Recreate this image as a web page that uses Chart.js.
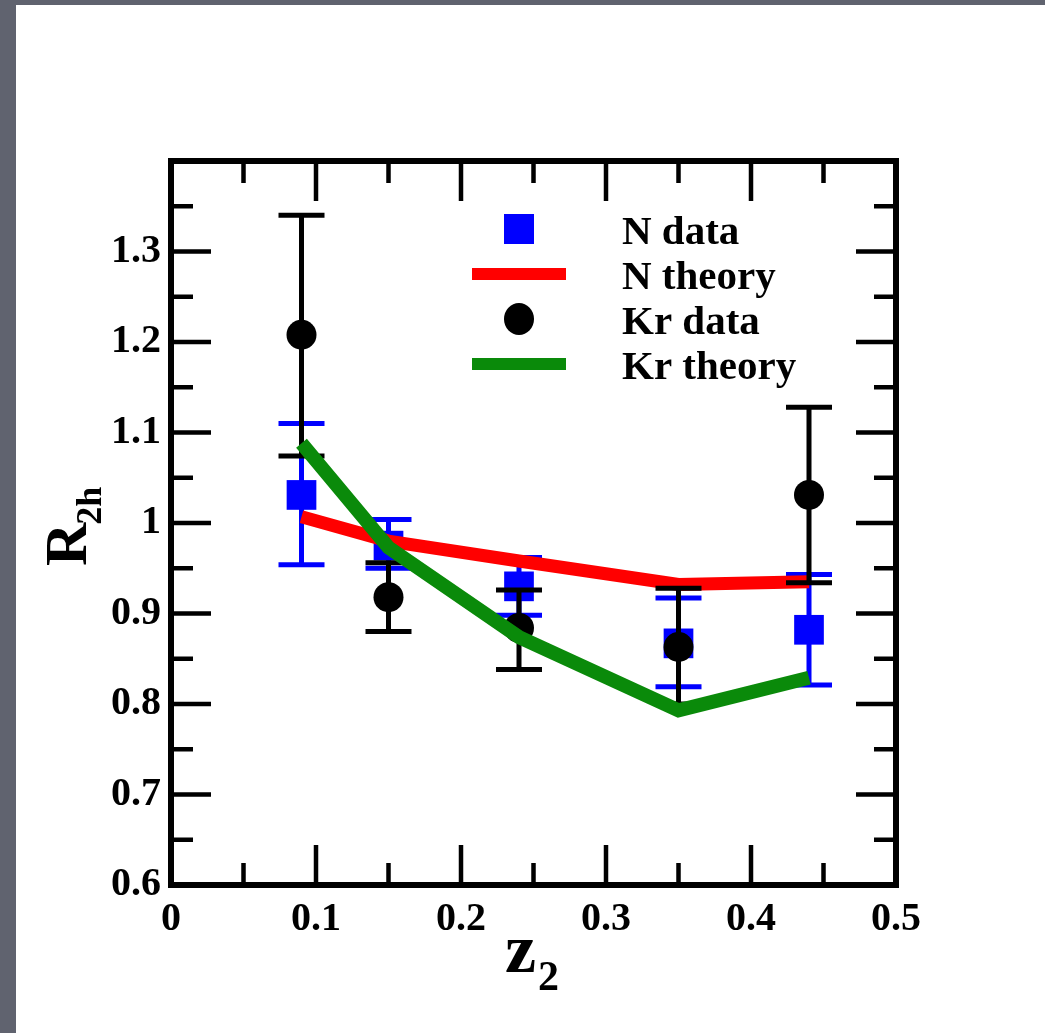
<!DOCTYPE html>
<html>
<head>
<meta charset="utf-8">
<script src="https://cdn.jsdelivr.net/npm/chart.js@4.4.1/dist/chart.umd.min.js"></script>
<style>
  html, body { margin: 0; padding: 0; background: #60636f; width: 1045px; height: 1033px; overflow: hidden; }
  .sheet { position: absolute; left: 16px; top: 5px; width: 1029px; height: 1028px; background: #fff; }
  .wrap { position: absolute; left: 0; top: 0; width: 1045px; height: 1033px; }
</style>
</head>
<body>
<div class="sheet"></div>
<div class="wrap"><canvas id="chart" width="1045" height="1033"></canvas></div>
<script>
// values
const zValues = [0.09, 0.15, 0.24, 0.35, 0.44];

const nData = [1.031, 0.975, 0.930, 0.867, 0.882];
const nErrLow = [0.954, 0.950, 0.898, 0.819, 0.821];
const nErrHigh = [1.110, 1.004, 0.962, 0.917, 0.943];
const nTheory = [1.007, 0.980, 0.958, 0.932, 0.935];

const krData = [1.208, 0.918, 0.884, 0.863, 1.031];
const krErrLow = [1.074, 0.880, 0.838, 0.800, 0.934];
const krErrHigh = [1.340, 0.956, 0.926, 0.928, 1.128];
const krTheory = [1.088, 0.973, 0.874, 0.793, 0.829];

const xTicks = [0, 0.1, 0.2, 0.3, 0.4, 0.5];
const yTicks = [0.6, 0.7, 0.8, 0.9, 1.0, 1.1, 1.2, 1.3];

const FONT = "'Liberation Serif', 'DejaVu Serif', serif";

function points(ys) {
    return zValues.map((z, i) => ({ x: z, y: ys[i] }));
}

// error bars, drawn just under the symbols of their own dataset
const errorBars = {
    id: 'errorBars',
    beforeDatasetDraw(chart, args) {
        const ds = chart.data.datasets[args.index];
        if (!ds.errLow) return;
        const ctx = chart.ctx;
        const x = chart.scales.x, y = chart.scales.y;
        ctx.save();
        ctx.strokeStyle = ds.errColor;
        ctx.lineWidth = 5;
        ds.data.forEach((p, i) => {
            const px = x.getPixelForValue(p.x);
            const lo = y.getPixelForValue(ds.errLow[i]);
            const hi = y.getPixelForValue(ds.errHigh[i]);
            ctx.beginPath();
            ctx.moveTo(px, lo); ctx.lineTo(px, hi);
            ctx.moveTo(px - 23, lo); ctx.lineTo(px + 23, lo);
            ctx.moveTo(px - 23, hi); ctx.lineTo(px + 23, hi);
            ctx.stroke();
        });
        ctx.restore();
    }
};

// box around the plot with inward major / minor ticks on all four sides
const frame = {
    id: 'frame',
    afterDatasetsDraw(chart) {
        const ctx = chart.ctx;
        const { left, right, top, bottom } = chart.chartArea;
        const x = chart.scales.x, y = chart.scales.y;
        const major = 40, minor = 22;

        const xMajor = xTicks;
        const xMinor = xMajor.slice(1).map((v, i) => (v + xMajor[i]) / 2);
        const yMajor = yTicks.concat([y.max]);
        const yMinor = yMajor.slice(1).map((v, i) => (v + yMajor[i]) / 2);

        ctx.save();
        ctx.strokeStyle = '#000';
        ctx.lineWidth = 4.5;
        ctx.beginPath();
        const tx = (v, len) => {
            const px = x.getPixelForValue(v);
            ctx.moveTo(px, bottom); ctx.lineTo(px, bottom - len);
            ctx.moveTo(px, top); ctx.lineTo(px, top + len);
        };
        const ty = (v, len) => {
            const py = y.getPixelForValue(v);
            ctx.moveTo(left, py); ctx.lineTo(left + len, py);
            ctx.moveTo(right, py); ctx.lineTo(right - len, py);
        };
        xMajor.forEach(v => tx(v, major));
        xMinor.forEach(v => tx(v, minor));
        yMajor.forEach(v => ty(v, major));
        yMinor.forEach(v => ty(v, minor));
        ctx.stroke();

        ctx.lineWidth = 6;
        ctx.strokeRect(left, top, right - left, bottom - top);
        ctx.restore();
    }
};

// legend inside the plot, built from the datasets
const insideLegend = {
    id: 'insideLegend',
    afterDatasetsDraw(chart) {
        const ctx = chart.ctx;
        const symX = 519, textX = 622, rowY = 229, rowGap = 45;
        ctx.save();
        ctx.font = 'bold 41px ' + FONT;
        ctx.textBaseline = 'alphabetic';
        ctx.textAlign = 'left';
        chart.data.datasets.forEach((ds, i) => {
            const cy = rowY + i * rowGap;
            if (ds.showLine) {
                ctx.fillStyle = ds.borderColor;
                ctx.fillRect(symX - 47, cy - 6, 94, 12);
            } else if (ds.pointStyle === 'rect') {
                ctx.fillStyle = ds.backgroundColor;
                ctx.fillRect(symX - 15, cy - 15, 30, 30);
            } else {
                ctx.fillStyle = ds.backgroundColor;
                ctx.beginPath();
                ctx.ellipse(symX, cy, 15, 16, 0, 0, Math.PI * 2);
                ctx.fill();
            }
            ctx.fillStyle = '#000';
            ctx.fillText(ds.label, textX, cy + 15);
        });
        ctx.restore();
    }
};

// axis titles with subscripts
const axisTitles = {
    id: 'axisTitles',
    afterDraw(chart) {
        const ctx = chart.ctx;
        ctx.save();
        ctx.fillStyle = '#000';
        ctx.textBaseline = 'alphabetic';
        ctx.textAlign = 'left';

        ctx.font = 'bold 70px ' + FONT;
        ctx.fillText('z', 505, 972);
        ctx.font = 'bold 42px ' + FONT;
        ctx.fillText('2', 538, 990);

        ctx.translate(86, 566);
        ctx.rotate(-Math.PI / 2);
        ctx.font = 'bold 60px ' + FONT;
        ctx.fillText('R', 0, 0);
        const w = ctx.measureText('R').width;
        ctx.font = 'bold 36px ' + FONT;
        ctx.fillText('2h', w - 2, 15);
        ctx.restore();
    }
};

new Chart(document.getElementById('chart'), {
    type: 'scatter',
    data: {
        datasets: [
            {
                label: 'N data',
                data: points(nData),
                errLow: nErrLow, errHigh: nErrHigh, errColor: '#0000ff',
                pointStyle: 'rect', pointRadius: 21, pointBorderWidth: 0,
                backgroundColor: '#0000ff', borderColor: '#0000ff',
                order: 4
            },
            {
                label: 'N theory',
                data: points(nTheory),
                showLine: true, pointRadius: 0,
                borderColor: '#ff0000', borderWidth: 13, tension: 0,
                order: 3
            },
            {
                label: 'Kr data',
                data: points(krData),
                errLow: krErrLow, errHigh: krErrHigh, errColor: '#000000',
                pointStyle: 'circle', pointRadius: 15, pointBorderWidth: 0,
                backgroundColor: '#000000', borderColor: '#000000',
                order: 2
            },
            {
                label: 'Kr theory',
                data: points(krTheory),
                showLine: true, pointRadius: 0,
                borderColor: '#0a8a0a', borderWidth: 14, tension: 0,
                order: 1
            }
        ]
    },
    options: {
        responsive: false,
        devicePixelRatio: 1,
        animation: false,
        layout: { padding: { top: 161, right: 149, left: 0, bottom: 0 } },
        plugins: {
            legend: { display: false },
            tooltip: { enabled: false }
        },
        scales: {
            x: {
                type: 'linear', min: 0, max: 0.5,
                afterFit: s => { s.height = 148; },
                afterBuildTicks: s => { s.ticks = xTicks.map(v => ({ value: v })); },
                grid: { display: false, drawTicks: false },
                border: { display: false },
                ticks: {
                    color: '#000', padding: 11,
                    font: { family: FONT, size: 40, weight: 'bold' },
                    callback: v => String(Math.round(v * 10) / 10)
                }
            },
            y: {
                type: 'linear', min: 0.6, max: 1.4,
                afterFit: s => { s.width = 171; },
                afterBuildTicks: s => { s.ticks = yTicks.map(v => ({ value: v })); },
                grid: { display: false, drawTicks: false },
                border: { display: false },
                ticks: {
                    color: '#000', padding: 10,
                    font: { family: FONT, size: 40, weight: 'bold' },
                    callback: v => String(Math.round(v * 10) / 10)
                }
            }
        }
    },
    plugins: [errorBars, frame, insideLegend, axisTitles]
});
</script>
</body>
</html>
